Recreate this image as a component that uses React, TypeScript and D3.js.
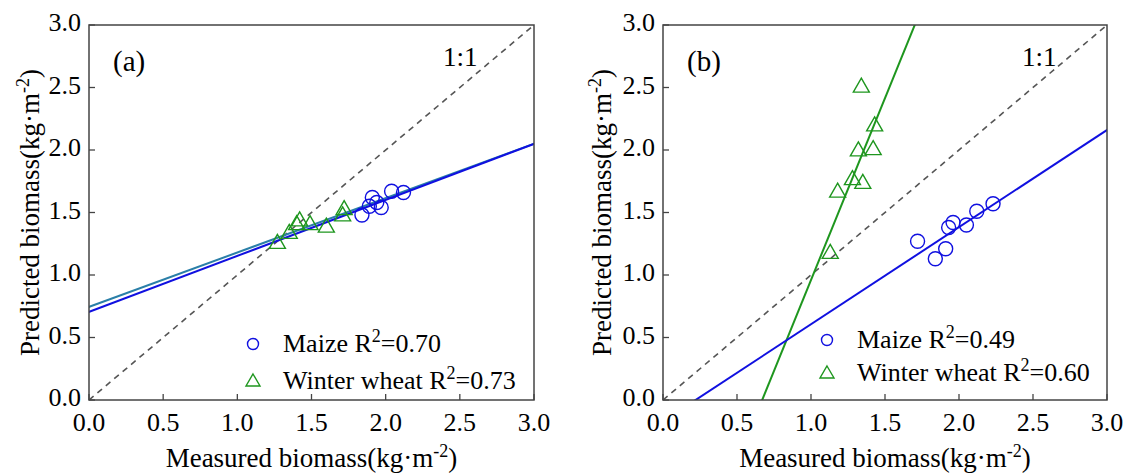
import React from 'react';
import * as d3 from 'd3';

const tickValues = [0, 0.5, 1.0, 1.5, 2.0, 2.5, 3.0];
const tickLabels = ['0.0', '0.5', '1.0', '1.5', '2.0', '2.5', '3.0'];

// Panel (a)
const maizeA_x = [1.84, 1.89, 1.91, 1.94, 1.97, 2.04, 2.12];
const maizeA_y = [1.48, 1.55, 1.62, 1.58, 1.54, 1.67, 1.66];
const wheatA_x = [1.27, 1.35, 1.40, 1.42, 1.49, 1.60, 1.71, 1.72];
const wheatA_y = [1.25, 1.33, 1.40, 1.43, 1.40, 1.38, 1.47, 1.52];
const fitA_maize = [0.705, 0.448]; // intercept, slope
const fitA_wheat = [0.745, 0.435];

// Panel (b)
const maizeB_x = [1.72, 1.84, 1.91, 1.93, 1.96, 2.05, 2.12, 2.23];
const maizeB_y = [1.27, 1.13, 1.21, 1.38, 1.42, 1.40, 1.51, 1.57];
const wheatB_x = [1.13, 1.18, 1.28, 1.35, 1.32, 1.42, 1.43, 1.34];
const wheatB_y = [1.17, 1.66, 1.76, 1.73, 1.99, 2.00, 2.19, 2.50];
const fitB_maize = [-0.171, 0.777];
const fitB_wheat = [-1.95, 2.91];

const legendA = ['0.70', '0.73'];
const legendB = ['0.49', '0.60'];

const FONT = '"Times New Roman", "Liberation Serif", Tinos, "DejaVu Serif", serif';
const BLUE = '#1010e0';
const GREEN = '#1e961e';
const TEAL = '#2a7fa8';
const TXT: React.CSSProperties = { fontFamily: FONT };
const INK = '#000';

function triPath(w: number, h: number) {
  return `M0,${-h * 2 / 3}L${w / 2},${h / 3}L${-w / 2},${h / 3}Z`;
}

type PanelProps = {
  id: string;
  left: number; right: number; top: number; bottom: number;
  label: string;
  maizeX: number[]; maizeY: number[];
  wheatX: number[]; wheatY: number[];
  fitMaize: number[]; fitWheat: number[];
  wheatLineColor: string;
  legendVals: string[];
  legendX: number; legendY1: number; legendY2: number;
  yTitleX: number;
  oneX: number;
};

function Panel(p: PanelProps) {
  const x = d3.scaleLinear().domain([0, 3]).range([p.left, p.right]);
  const y = d3.scaleLinear().domain([0, 3]).range([p.bottom, p.top]);
  const line = d3.line<number[]>().x(d => x(d[0])).y(d => y(d[1]));
  const fitPts = (f: number[]) => [[-1, f[0] - f[1]], [4, f[0] + 4 * f[1]]];
  const cx = (p.left + p.right) / 2;
  const cy = (p.top + p.bottom) / 2;
  return (
    <g>
      <defs>
        <clipPath id={`clip-${p.id}`}>
          <rect x={p.left} y={p.top} width={p.right - p.left} height={p.bottom - p.top} />
        </clipPath>
      </defs>
      <g clipPath={`url(#clip-${p.id})`}>
        <path d={line([[0, 0], [3, 3]]) || ''} stroke="#555" strokeWidth={1.6} strokeDasharray="6,5" fill="none" />
        <path d={line(fitPts(p.fitWheat)) || ''} stroke={p.wheatLineColor} strokeWidth={2} fill="none" />
        <path d={line(fitPts(p.fitMaize)) || ''} stroke={BLUE} strokeWidth={2} fill="none" />
      </g>
      {p.maizeX.map((v, i) => (
        <circle key={'m' + i} cx={x(v)} cy={y(p.maizeY[i])} r={7} fill="none" stroke={BLUE} strokeWidth={1.4} />
      ))}
      {p.wheatX.map((v, i) => (
        <path key={'w' + i} d={triPath(16, 14)} transform={`translate(${x(v)},${y(p.wheatY[i])})`} fill="none" stroke={GREEN} strokeWidth={1.4} />
      ))}
      <rect x={p.left} y={p.top} width={p.right - p.left} height={p.bottom - p.top} fill="none" stroke="#444" strokeWidth={1.5} />
      {tickValues.map((t, i) => (
        <g key={'t' + i}>
          <line x1={x(t)} x2={x(t)} y1={p.bottom} y2={p.bottom - 6} stroke="#444" strokeWidth={1.3} />
          <line x1={p.left} x2={p.left + 6} y1={y(t)} y2={y(t)} stroke="#444" strokeWidth={1.3} />
          <text x={x(t)} y={431} textAnchor="middle" fontSize={26} style={TXT} fill={INK}>{tickLabels[i]}</text>
          <text x={p.left - 8} y={y(t) + 6} textAnchor="end" fontSize={26} style={TXT} fill={INK}>{tickLabels[i]}</text>
        </g>
      ))}
      <text x={cx} y={467} textAnchor="middle" fontSize={27} style={TXT} fill={INK}>
        Measured biomass(kg·m<tspan fontSize={18} dy={-10}>-2</tspan><tspan dy={10}>)</tspan>
      </text>
      <text transform={`translate(${p.yTitleX},${cy}) rotate(-90)`} textAnchor="middle" fontSize={27} style={TXT} fill={INK}>
        Predicted biomass(kg·m<tspan fontSize={18} dy={-10}>-2</tspan><tspan dy={10}>)</tspan>
      </text>
      <text x={p.left + 24} y={71} fontSize={29} style={TXT} fill={INK}>{p.label}</text>
      <text x={p.oneX} y={66} fontSize={27} style={TXT} fill={INK}>1:1</text>
      <circle cx={p.legendX} cy={p.legendY1 - 8} r={5.5} fill="none" stroke={BLUE} strokeWidth={1.4} />
      <path d={triPath(14, 12)} transform={`translate(${p.legendX},${p.legendY2 - 7})`} fill="none" stroke={GREEN} strokeWidth={1.4} />
      <text x={p.legendX + 30} y={p.legendY1} fontSize={26} style={TXT} fill={INK}>
        Maize R<tspan fontSize={18} dy={-10}>2</tspan><tspan dy={10}>={p.legendVals[0]}</tspan>
      </text>
      <text x={p.legendX + 30} y={p.legendY2} fontSize={26} style={TXT} fill={INK}>
        Winter wheat R<tspan fontSize={18} dy={-10}>2</tspan><tspan dy={10}>={p.legendVals[1]}</tspan>
      </text>
    </g>
  );
}

export default function App() {
  return (
    <svg width={1128} height={475} style={{ position: 'absolute', left: 0, top: 0, background: '#fff' }}>
      <rect x={0} y={0} width={1128} height={475} fill="#fff" />
      <Panel id="a" left={89} right={534} top={25} bottom={400} label="(a)"
        maizeX={maizeA_x} maizeY={maizeA_y} wheatX={wheatA_x} wheatY={wheatA_y}
        fitMaize={fitA_maize} fitWheat={fitA_wheat} wheatLineColor={TEAL}
        legendVals={legendA} legendX={253} legendY1={352} legendY2={389}
        yTitleX={39} oneX={443} />
      <Panel id="b" left={663} right={1107} top={25} bottom={400} label="(b)"
        maizeX={maizeB_x} maizeY={maizeB_y} wheatX={wheatB_x} wheatY={wheatB_y}
        fitMaize={fitB_maize} fitWheat={fitB_wheat} wheatLineColor={GREEN}
        legendVals={legendB} legendX={827} legendY1={348} legendY2={381}
        yTitleX={611} oneX={1022} />
    </svg>
  );
}
